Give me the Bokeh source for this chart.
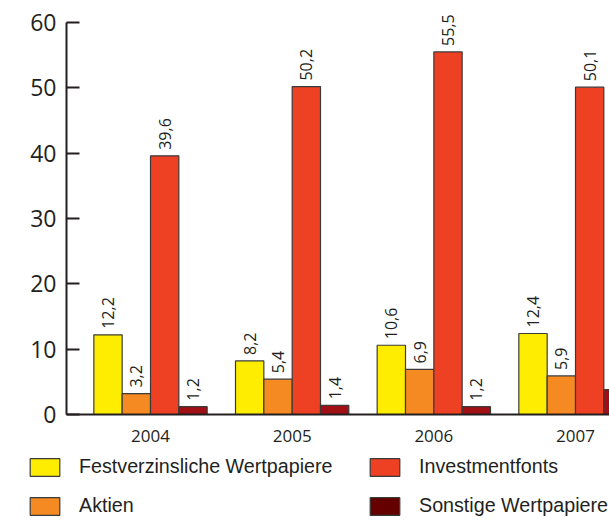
import numpy as np
from bokeh.plotting import figure
from bokeh.layouts import column
from bokeh.models import Range1d, LinearAxis, FixedTicker, Legend, LegendItem
from bokeh.core.properties import value
from bokeh.embed import file_html
from bokeh.resources import INLINE

years = ["2004", "2005", "2006", "2007"]
festverzinslich = [12.2, 8.2, 10.6, 12.4]
aktien = [3.2, 5.4, 6.9, 5.9]
investmentfonts = [39.6, 50.2, 55.5, 50.1]
sonstige = [1.2, 1.4, 1.2, 3.8]
series_names = ["Festverzinsliche Wertpapiere", "Aktien", "Investmentfonts", "Sonstige Wertpapiere"]
y_ticks = [0, 10, 20, 30, 40, 50, 60]

bar_colors = ["#FFED00", "#F58A22", "#EE4023", "#A00F14"]
legend_colors = ["#FFED00", "#F58A22", "#EE4023", "#640000"]
dark = "#231f20"
outline = "#3b3b3b"

series = [festverzinslich, aktien, investmentfonts, sonstige]
offsets = [-0.3, -0.1, 0.1, 0.3]
bar_w = 0.2

p = figure(width=609, height=454, output_backend="svg", toolbar_location=None,
           x_range=Range1d(-0.593, 3.240), y_range=Range1d(0, 63.37),
           x_axis_type=None, y_axis_type=None,
           min_border_left=66, min_border_right=0, min_border_top=0, min_border_bottom=40)
p.frame_align = False
p.outline_line_color = None
p.background_fill_color = "white"
p.border_fill_color = "white"

base = np.arange(len(years))
for vals, off, col in zip(series, offsets, bar_colors):
    xs = base + off
    p.vbar(x=xs, top=vals, width=bar_w, fill_color=col, line_color=outline, line_width=1.2)
    p.text(x=xs, y=vals, text=[f"{v:.1f}".replace(".", ",") for v in vals],
           angle=np.pi / 2, text_align="left", text_baseline="middle", y_offset=-6,
           text_font=value("Open Sans"), text_font_size="16px", text_color=dark)

# y axis
yaxis = LinearAxis(bounds=(0, 60), ticker=FixedTicker(ticks=y_ticks))
yaxis.axis_line_color = dark
yaxis.axis_line_width = 2
yaxis.major_tick_line_color = dark
yaxis.major_tick_line_width = 2
yaxis.major_tick_in = 13
yaxis.major_tick_out = 0
yaxis.minor_tick_line_color = None
yaxis.major_label_standoff = 10
yaxis.major_label_text_font = "Open Sans"
yaxis.major_label_text_font_size = "23px"
yaxis.major_label_text_color = dark
p.add_layout(yaxis, "left")

# x axis
xaxis = LinearAxis(ticker=FixedTicker(ticks=list(range(len(years)))),
                   major_label_overrides={i: y for i, y in enumerate(years)})
xaxis.axis_line_color = dark
xaxis.axis_line_width = 2
xaxis.major_tick_line_color = None
xaxis.minor_tick_line_color = None
xaxis.major_tick_in = 0
xaxis.major_tick_out = 0
xaxis.major_label_standoff = 15
xaxis.major_label_text_font = "Open Sans"
xaxis.major_label_text_font_size = "17px"
xaxis.major_label_text_color = dark
p.add_layout(xaxis, "below")

# legend strip below the chart
lf = figure(width=609, height=66, output_backend="svg", toolbar_location=None,
            x_range=Range1d(0, 1), y_range=Range1d(0, 1),
            x_axis_type=None, y_axis_type=None, min_border=0)
lf.frame_align = False
lf.outline_line_color = None
lf.background_fill_color = "white"
lf.border_fill_color = "white"

# hidden renderers that only carry the legend swatch styles
swatches = [lf.vbar(x=base, top=vals, width=bar_w, fill_color=c, line_color=outline,
                    line_width=1.2, visible=False)
            for vals, c in zip(series, legend_colors)]

def make_legend(idx, loc):
    return Legend(items=[LegendItem(label=series_names[i], renderers=[swatches[i]]) for i in idx],
                  location=loc, orientation="vertical",
                  glyph_width=37, glyph_height=22, label_standoff=16, label_height=22,
                  spacing=16, padding=0, margin=0,
                  border_line_color=None, background_fill_alpha=0,
                  inactive_fill_alpha=0,
                  label_text_font="Liberation Sans", label_text_font_size="19.7px",
                  label_text_color=dark, label_text_baseline="middle")

lf.add_layout(make_legend([0, 1], (26, 3)))
lf.add_layout(make_legend([2, 3], (366, 3)))

layout = column(p, lf, spacing=0)
open("out.html", "w").write(file_html(layout, INLINE))
